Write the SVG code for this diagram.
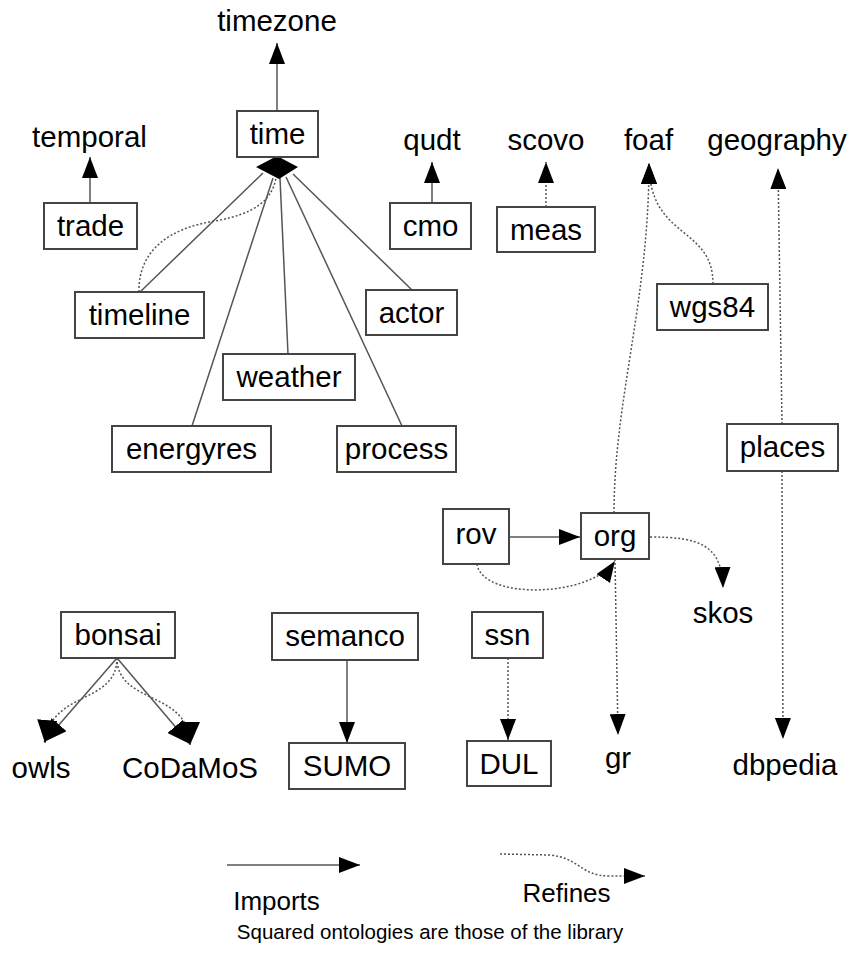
<svg xmlns="http://www.w3.org/2000/svg" width="852" height="955" viewBox="0 0 852 955">
<style>
rect.n{fill:#fff;stroke:#444;stroke-width:2}
text{font-family:"Liberation Sans",Arial,sans-serif;fill:#000}
text.t{font-size:29.5px;text-anchor:middle}
text.l{font-size:26px;text-anchor:middle}
text.f{font-size:20.5px;text-anchor:middle}
.s{fill:none;stroke:#555;stroke-width:1.5}
.d{fill:none;stroke:#555;stroke-width:1.5;stroke-dasharray:2,2}
.ma{marker-end:url(#ah)}
.mb{marker-end:url(#ab)}
</style>
<defs>
<marker id="ah" markerUnits="userSpaceOnUse" markerWidth="22" markerHeight="16" refX="21" refY="8" orient="auto" viewBox="0 0 22 16">
<path d="M0,0 L21,8 L0,16 z" fill="#000"/>
</marker>
<marker id="ab" markerUnits="userSpaceOnUse" markerWidth="24" markerHeight="20" refX="23" refY="10" orient="auto" viewBox="0 0 24 20">
<path d="M0,0 L23,10 L0,20 z" fill="#000"/>
</marker>
</defs>
<rect width="852" height="955" fill="#fff"/>
<g id="connectors">
<line class="s ma" x1="277" y1="111" x2="277" y2="43"/>
<line class="s ma" x1="90" y1="203" x2="90" y2="157"/>
<line class="s ma" x1="432" y1="203" x2="432" y2="162"/>
<line class="d ma" x1="546" y1="207" x2="546" y2="162"/>
<path class="d ma" d="M713,284 C713,225 649,240 649,163"/>
<path class="d ma" d="M614,513 C614,400 649,300 649,163"/>
<line class="d ma" x1="782" y1="424" x2="778" y2="168"/>
<line class="d ma" x1="782" y1="471" x2="783" y2="739"/>
<line class="s" x1="140" y1="292" x2="263" y2="173"/>
<line class="s" x1="192" y1="426" x2="273" y2="178"/>
<line class="s" x1="288" y1="354" x2="280" y2="178"/>
<line class="s" x1="402" y1="426" x2="286" y2="177"/>
<line class="s" x1="412" y1="290" x2="293" y2="174"/>
<path class="d" d="M139,292 C138,250 170,228 215,221 C255,214 272,200 276,178"/>
<polygon points="277,156 298,167 279,179 256,167" fill="#000"/>
<line class="s ma" x1="509" y1="537" x2="580" y2="537"/>
<path class="d ma" d="M477,564 C482,600 590,598 615,561"/>
<path class="d ma" d="M650,537 C700,537 722,545 723,588"/>
<line class="d ma" x1="615" y1="559" x2="618" y2="735"/>
<line class="d ma" x1="508" y1="658" x2="508" y2="740"/>
<line class="s ma" x1="347" y1="660" x2="347" y2="743"/>
<line class="s mb" x1="117" y1="658" x2="44" y2="742"/>
<line class="s mb" x1="117" y1="658" x2="190" y2="744"/>
<path class="d mb" d="M117,658 C117,705 50,690 45,743"/>
<path class="d mb" d="M117,658 C117,705 190,690 190,745"/>
</g>
<g id="n-timezone"><text class="t" x="277" y="31">timezone</text></g>
<g id="n-temporal"><text class="t" x="89.5" y="147">temporal</text></g>
<g id="n-qudt"><text class="t" x="432" y="150">qudt</text></g>
<g id="n-scovo"><text class="t" x="546" y="150">scovo</text></g>
<g id="n-foaf"><text class="t" x="648.5" y="150">foaf</text></g>
<g id="n-geography"><text class="t" x="777" y="150">geography</text></g>
<g id="n-skos"><text class="t" x="723" y="623">skos</text></g>
<g id="n-owls"><text class="t" x="41" y="778">owls</text></g>
<g id="n-CoDaMoS"><text class="t" x="190" y="778">CoDaMoS</text></g>
<g id="n-gr"><text class="t" x="618" y="768">gr</text></g>
<g id="n-dbpedia"><text class="t" x="785" y="775">dbpedia</text></g>
<g id="n-time"><rect class="n" x="237" y="111" width="81" height="46"/><text class="t" x="277.5" y="144">time</text></g>
<g id="n-trade"><rect class="n" x="44" y="203" width="93" height="46"/><text class="t" x="90.5" y="236">trade</text></g>
<g id="n-cmo"><rect class="n" x="390" y="203" width="81" height="46"/><text class="t" x="430.5" y="236">cmo</text></g>
<g id="n-meas"><rect class="n" x="497" y="207" width="98" height="45"/><text class="t" x="546" y="240">meas</text></g>
<g id="n-wgs84"><rect class="n" x="657" y="284" width="111" height="46"/><text class="t" x="712.5" y="317">wgs84</text></g>
<g id="n-timeline"><rect class="n" x="75" y="292" width="129" height="46"/><text class="t" x="139.5" y="325">timeline</text></g>
<g id="n-actor"><rect class="n" x="366" y="290" width="91" height="45"/><text class="t" x="411.5" y="323">actor</text></g>
<g id="n-weather"><rect class="n" x="223" y="354" width="132" height="46"/><text class="t" x="289" y="387">weather</text></g>
<g id="n-energyres"><rect class="n" x="112" y="426" width="159" height="46"/><text class="t" x="191.5" y="459">energyres</text></g>
<g id="n-process"><rect class="n" x="337" y="426" width="119" height="46"/><text class="t" x="396.5" y="459">process</text></g>
<g id="n-places"><rect class="n" x="727" y="424" width="111" height="47"/><text class="t" x="782.5" y="457">places</text></g>
<g id="n-rov"><rect class="n" x="443" y="509" width="66" height="55"/><text class="t" x="476" y="544">rov</text></g>
<g id="n-org"><rect class="n" x="581" y="513" width="68" height="46"/><text class="t" x="615" y="546">org</text></g>
<g id="n-bonsai"><rect class="n" x="61" y="612" width="114" height="46"/><text class="t" x="118" y="645">bonsai</text></g>
<g id="n-semanco"><rect class="n" x="272" y="613" width="146" height="47"/><text class="t" x="345" y="646">semanco</text></g>
<g id="n-ssn"><rect class="n" x="472" y="612" width="71" height="46"/><text class="t" x="507.5" y="645">ssn</text></g>
<g id="n-SUMO"><rect class="n" x="289" y="743" width="116" height="46"/><text class="t" x="347" y="776">SUMO</text></g>
<g id="n-DUL"><rect class="n" x="467" y="741" width="84" height="45"/><text class="t" x="509" y="774">DUL</text></g>
<g id="legend">
<line class="s ma" x1="227" y1="865" x2="360" y2="865"/>
<text class="l" x="276.5" y="910">Imports</text>
<path class="d ma" d="M500,854 L550,855 C580,858 580,876 610,876 L645,876"/>
<text class="l" x="566.5" y="902">Refines</text>
<text class="f" x="430" y="939">Squared ontologies are those of the library</text>
</g>
</svg>
